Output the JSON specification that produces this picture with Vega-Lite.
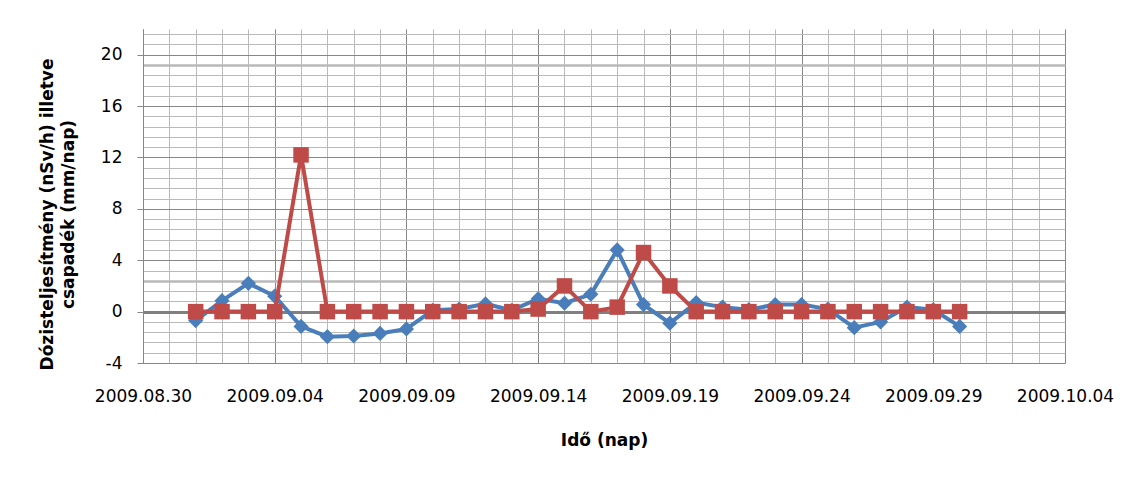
{
  "$schema": "https://vega.github.io/schema/vega-lite/v6.json",
  "width": 922,
  "height": 334,
  "autosize": "none",
  "padding": {"left": 143, "top": 29, "right": 71, "bottom": 114},
  "background": "white",
  "config": {
    "view": {"stroke": null},
    "font": "DejaVu Sans"
  },
  "data": {
    "values": [
      {"nap": "2009-09-01", "sor": "dozis", "ertek": -0.7},
      {"nap": "2009-09-02", "sor": "dozis", "ertek": 0.85},
      {"nap": "2009-09-03", "sor": "dozis", "ertek": 2.2},
      {"nap": "2009-09-04", "sor": "dozis", "ertek": 1.2},
      {"nap": "2009-09-05", "sor": "dozis", "ertek": -1.15},
      {"nap": "2009-09-06", "sor": "dozis", "ertek": -1.95},
      {"nap": "2009-09-07", "sor": "dozis", "ertek": -1.9},
      {"nap": "2009-09-08", "sor": "dozis", "ertek": -1.7},
      {"nap": "2009-09-09", "sor": "dozis", "ertek": -1.35},
      {"nap": "2009-09-10", "sor": "dozis", "ertek": 0.1},
      {"nap": "2009-09-11", "sor": "dozis", "ertek": 0.2},
      {"nap": "2009-09-12", "sor": "dozis", "ertek": 0.6},
      {"nap": "2009-09-13", "sor": "dozis", "ertek": 0.1},
      {"nap": "2009-09-14", "sor": "dozis", "ertek": 1.0},
      {"nap": "2009-09-15", "sor": "dozis", "ertek": 0.65},
      {"nap": "2009-09-16", "sor": "dozis", "ertek": 1.35},
      {"nap": "2009-09-17", "sor": "dozis", "ertek": 4.8},
      {"nap": "2009-09-18", "sor": "dozis", "ertek": 0.55},
      {"nap": "2009-09-19", "sor": "dozis", "ertek": -0.9},
      {"nap": "2009-09-20", "sor": "dozis", "ertek": 0.7},
      {"nap": "2009-09-21", "sor": "dozis", "ertek": 0.35},
      {"nap": "2009-09-22", "sor": "dozis", "ertek": 0.15},
      {"nap": "2009-09-23", "sor": "dozis", "ertek": 0.55},
      {"nap": "2009-09-24", "sor": "dozis", "ertek": 0.55},
      {"nap": "2009-09-25", "sor": "dozis", "ertek": 0.2},
      {"nap": "2009-09-26", "sor": "dozis", "ertek": -1.25},
      {"nap": "2009-09-27", "sor": "dozis", "ertek": -0.8},
      {"nap": "2009-09-28", "sor": "dozis", "ertek": 0.35},
      {"nap": "2009-09-29", "sor": "dozis", "ertek": 0.15},
      {"nap": "2009-09-30", "sor": "dozis", "ertek": -1.15},
      {"nap": "2009-09-01", "sor": "csapadek", "ertek": 0},
      {"nap": "2009-09-02", "sor": "csapadek", "ertek": 0},
      {"nap": "2009-09-03", "sor": "csapadek", "ertek": 0},
      {"nap": "2009-09-04", "sor": "csapadek", "ertek": 0},
      {"nap": "2009-09-05", "sor": "csapadek", "ertek": 12.2},
      {"nap": "2009-09-06", "sor": "csapadek", "ertek": 0},
      {"nap": "2009-09-07", "sor": "csapadek", "ertek": 0},
      {"nap": "2009-09-08", "sor": "csapadek", "ertek": 0},
      {"nap": "2009-09-09", "sor": "csapadek", "ertek": 0},
      {"nap": "2009-09-10", "sor": "csapadek", "ertek": 0},
      {"nap": "2009-09-11", "sor": "csapadek", "ertek": 0},
      {"nap": "2009-09-12", "sor": "csapadek", "ertek": 0},
      {"nap": "2009-09-13", "sor": "csapadek", "ertek": 0},
      {"nap": "2009-09-14", "sor": "csapadek", "ertek": 0.2},
      {"nap": "2009-09-15", "sor": "csapadek", "ertek": 2.0},
      {"nap": "2009-09-16", "sor": "csapadek", "ertek": 0},
      {"nap": "2009-09-17", "sor": "csapadek", "ertek": 0.35},
      {"nap": "2009-09-18", "sor": "csapadek", "ertek": 4.6},
      {"nap": "2009-09-19", "sor": "csapadek", "ertek": 2.0},
      {"nap": "2009-09-20", "sor": "csapadek", "ertek": 0},
      {"nap": "2009-09-21", "sor": "csapadek", "ertek": 0},
      {"nap": "2009-09-22", "sor": "csapadek", "ertek": 0},
      {"nap": "2009-09-23", "sor": "csapadek", "ertek": 0},
      {"nap": "2009-09-24", "sor": "csapadek", "ertek": 0},
      {"nap": "2009-09-25", "sor": "csapadek", "ertek": 0},
      {"nap": "2009-09-26", "sor": "csapadek", "ertek": 0},
      {"nap": "2009-09-27", "sor": "csapadek", "ertek": 0},
      {"nap": "2009-09-28", "sor": "csapadek", "ertek": 0},
      {"nap": "2009-09-29", "sor": "csapadek", "ertek": 0},
      {"nap": "2009-09-30", "sor": "csapadek", "ertek": 0}
    ]
  },
  "layer": [
    {
      "transform": [{"filter": "datum.sor === 'dozis'"}],
      "mark": {"type": "line", "color": "#4A7EBB", "strokeWidth": 4},
      "encoding": {
        "x": {
          "field": "nap", "type": "temporal",
          "scale": {"type": "utc", "domain": [{"year": 2009, "month": 8, "date": 30, "utc": true}, {"year": 2009, "month": 10, "date": 4, "utc": true}]},
          "axis": {"orient": "bottom", "title": null, "labels": false, "ticks": false, "domain": false, "grid": true, "gridColor": "#bababa", "gridWidth": 1, "tickCount": {"interval": "day", "step": 1}}
        },
        "y": {
          "field": "ertek", "type": "quantitative",
          "scale": {"domain": [-4, 22], "nice": false, "zero": false},
          "axis": {"orient": "left", "title": null, "labels": false, "ticks": false, "domain": false, "grid": true, "gridColor": "#bababa", "gridWidth": 1,
            "values": [-4, -3.2, -2.4, -1.6, -0.8, 0, 0.8, 1.6, 2.4, 3.2, 4, 4.8, 5.6, 6.4, 7.2, 8, 8.8, 9.6, 10.4, 11.2, 12, 12.8, 13.6, 14.4, 15.2, 16, 16.8, 17.6, 18.4, 19.2, 20, 20.8, 21.6]}
        }
      }
    },
    {
      "transform": [{"filter": "datum.sor === 'dozis'"}],
      "mark": {"type": "point", "shape": "diamond", "filled": true, "opacity": 1, "color": "#4A7EBB", "size": 230},
      "encoding": {
        "x": {"field": "nap", "type": "temporal", "axis": null},
        "y": {
          "field": "ertek", "type": "quantitative",
          "axis": {"orient": "left", "title": null, "labels": false, "ticks": false, "domain": false, "grid": true, "gridColor": "#b8b8b8", "gridWidth": 2.5, "values": [2.4, 19.2]}
        }
      }
    },
    {
      "transform": [{"filter": "datum.sor === 'csapadek'"}],
      "mark": {"type": "line", "color": "#BE4B48", "strokeWidth": 4},
      "encoding": {
        "x": {
          "field": "nap", "type": "temporal",
          "axis": {
            "orient": "bottom", "title": "Idő (nap)", "format": "%Y.%m.%d",
            "values": [
              {"year": 2009, "month": 8, "date": 30, "utc": true},
              {"year": 2009, "month": 9, "date": 4, "utc": true},
              {"year": 2009, "month": 9, "date": 9, "utc": true},
              {"year": 2009, "month": 9, "date": 14, "utc": true},
              {"year": 2009, "month": 9, "date": 19, "utc": true},
              {"year": 2009, "month": 9, "date": 24, "utc": true},
              {"year": 2009, "month": 9, "date": 29, "utc": true},
              {"year": 2009, "month": 10, "date": 4, "utc": true}
            ],
            "grid": true, "gridColor": "#878787", "gridWidth": 1,
            "ticks": false, "tickSize": 0, "domain": false,
            "labelFontSize": 17, "labelColor": "#000000", "labelPadding": 25,
            "labelFlush": false, "labelOverlap": false, "labelBound": false,
            "titleFontSize": 17, "titleFontWeight": "bold", "titleColor": "#000000",
            "titleY": 77, "titleBaseline": "middle"
          }
        },
        "y": {
          "field": "ertek", "type": "quantitative",
          "axis": {
            "orient": "left",
            "title": ["Dózisteljesítmény (nSv/h) illetve", "csapadék (mm/nap)"],
            "values": [-4, 0, 4, 8, 12, 16, 20],
            "labelExpr": "replace(datum.label, '\u2212', '-')",
            "grid": true, "gridColor": "#878787", "gridWidth": 1,
            "ticks": true, "tickSize": 6, "tickColor": "#878787",
            "domain": true, "domainColor": "#878787",
            "labelFontSize": 17, "labelColor": "#000000", "labelPadding": 15,
            "titleFontSize": 17, "titleFontWeight": "bold", "titleColor": "#000000",
            "titleLineHeight": 21, "titleX": -87, "titleY": 185, "titleBaseline": "bottom"
          }
        }
      }
    },
    {
      "transform": [{"filter": "datum.sor === 'csapadek'"}],
      "mark": {"type": "point", "shape": "square", "filled": true, "opacity": 1, "color": "#BE4B48", "size": 240},
      "encoding": {
        "x": {"field": "nap", "type": "temporal", "axis": null},
        "y": {
          "field": "ertek", "type": "quantitative",
          "axis": {"orient": "left", "title": null, "labels": false, "ticks": false, "domain": false, "grid": true, "gridColor": "#808080", "gridWidth": 3, "values": [0]}
        }
      }
    }
  ],
  "resolve": {"axis": {"x": "independent", "y": "independent"}}
}
